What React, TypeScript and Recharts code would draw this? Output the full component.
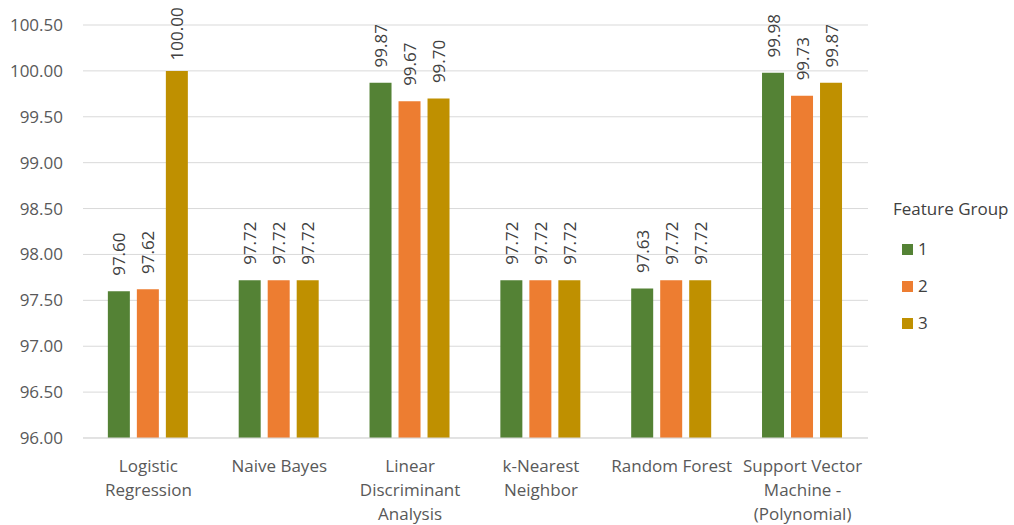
import React from "react";
import { BarChart, Bar, XAxis, YAxis, CartesianGrid, LabelList } from "recharts";

const categories = [
  "Logistic\nRegression",
  "Naive Bayes",
  "Linear\nDiscriminant\nAnalysis",
  "k-Nearest\nNeighbor",
  "Random Forest",
  "Support Vector\nMachine -\n(Polynomial)",
];
const group1 = [97.6, 97.72, 99.87, 97.72, 97.63, 99.98];
const group2 = [97.62, 97.72, 99.67, 97.72, 97.72, 99.73];
const group3 = [100.0, 97.72, 99.7, 97.72, 97.72, 99.87];
const yTicks = [96, 96.5, 97, 97.5, 98, 98.5, 99, 99.5, 100, 100.5];

const seriesNames = ["1", "2", "3"];
const seriesColors = ["#548235", "#ED7D31", "#BF9000"];

const data = categories.map((name, i) => ({
  name,
  g1: group1[i],
  g2: group2[i],
  g3: group3[i],
}));

const FONT = "'Open Sans', sans-serif";
const TEXT = "#595959";
const SIZE = 17;

function CategoryTick({ x, y, payload }: any) {
  const lines = String(payload.value).split("\n");
  return (
    <text x={x} y={y} textAnchor="middle" fill={TEXT} fontSize={SIZE} fontFamily={FONT}>
      {lines.map((line, i) => (
        <tspan key={i} x={x} dy={i === 0 ? 26 : 24}>
          {line}
        </tspan>
      ))}
    </text>
  );
}

// rotated value label centred a fixed distance above the bar
function ValueLabel({ x, y, width, value }: any) {
  const cx = x + width / 2;
  const cy = y - 37;
  return (
    <text
      x={cx}
      y={cy}
      transform={`rotate(-90 ${cx} ${cy})`}
      textAnchor="middle"
      dominantBaseline="central"
      fill="#404040"
      fontSize={SIZE}
      fontFamily={FONT}
    >
      {Number(value).toFixed(2)}
    </text>
  );
}

export default function App() {
  const keys = ["g1", "g2", "g3"];
  return (
    <div style={{ position: "absolute", left: 0, top: 0, width: 1014, height: 525, background: "#fff" }}>
      <BarChart
        width={1014}
        height={525}
        data={data}
        margin={{ top: 25, right: 146, bottom: 0, left: 0 }}
        barCategoryGap="19%"
        barGap={7}
      >
        <CartesianGrid vertical={false} stroke="#D9D9D9" />
        <XAxis
          dataKey="name"
          height={87}
          interval={0}
          axisLine={{ stroke: "#D9D9D9" }}
          tickLine={false}
          tick={<CategoryTick />}
        />
        <YAxis
          width={83}
          domain={[96, 100.5]}
          ticks={yTicks}
          allowDataOverflow
          axisLine={false}
          tickLine={false}
          tickSize={18}
          tickMargin={2}
          tickFormatter={(v) => Number(v).toFixed(2)}
          tick={{ fill: TEXT, fontSize: SIZE, fontFamily: FONT }}
        />
        {keys.map((k, i) => (
          <Bar key={k} dataKey={k} name={seriesNames[i]} fill={seriesColors[i]} isAnimationActive={false}>
            <LabelList dataKey={k} content={<ValueLabel />} />
          </Bar>
        ))}
      </BarChart>
      <div style={{ position: "absolute", left: 893, top: 197, fontFamily: FONT, color: "#404040" }}>
        <div style={{ fontSize: SIZE, lineHeight: "24px" }}>Feature Group</div>
        {seriesNames.map((n, i) => (
          <div
            key={n}
            style={{ display: "flex", alignItems: "center", marginTop: i === 0 ? 16 : 13, marginLeft: 9, fontSize: SIZE, lineHeight: "24px" }}
          >
            <span style={{ width: 11, height: 11, background: seriesColors[i], marginRight: 5 }} />
            {n}
          </div>
        ))}
      </div>
    </div>
  );
}
